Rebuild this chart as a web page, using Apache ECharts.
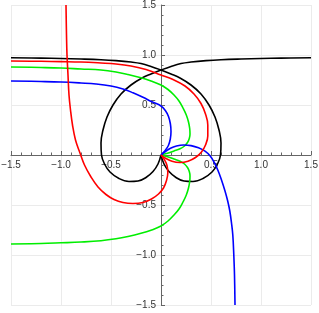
<!DOCTYPE html>
<html>
<head>
<meta charset="utf-8">
<script src="https://cdn.jsdelivr.net/npm/echarts@6/dist/echarts.min.js"></script>
<style>
html,body{margin:0;padding:0;background:#fff;}
#c{width:319px;height:313px;}
</style>
</head>
<body>
<div id="c"></div>
<script>
// Tick values and labels
var ticks = [-1.5, -1.0, -0.5, 0, 0.5, 1.0, 1.5];
var tickLabels = ['\u22121.5', '\u22121.0', '\u22120.5', '', '0.5', '1.0', '1.5'];

// Black curve: two branches meeting at the origin
var blackA = [[-1.5,0.973],[-1.2,0.969],[-1.0,0.965],[-0.8,0.960],[-0.6,0.953],[-0.45,0.944],[-0.3,0.93],[-0.2,0.915],[-0.1,0.886],[0,0.85],[0.1,0.81],[0.19,0.77],[0.30,0.70],[0.40,0.61],[0.48,0.50],[0.54,0.38],[0.58,0.25],[0.60,0.12],[0.595,0.0],[0.565,-0.09],[0.51,-0.17],[0.42,-0.235],[0.32,-0.265],[0.23,-0.26],[0.15,-0.225],[0.08,-0.165],[0.03,-0.09],[0,0]];
var blackB = [[0,0],[-0.03,-0.09],[-0.08,-0.165],[-0.15,-0.225],[-0.23,-0.26],[-0.32,-0.265],[-0.42,-0.235],[-0.51,-0.17],[-0.565,-0.09],[-0.595,0],[-0.60,0.12],[-0.58,0.25],[-0.54,0.38],[-0.48,0.50],[-0.40,0.61],[-0.30,0.70],[-0.19,0.77],[-0.1,0.81],[0,0.85],[0.1,0.886],[0.2,0.915],[0.3,0.93],[0.45,0.944],[0.6,0.953],[0.8,0.960],[1.0,0.965],[1.2,0.969],[1.5,0.973]];

// Red curve
var redA = [[-1.5,0.94],[-1.2,0.937],[-1.0,0.934],[-0.8,0.93],[-0.6,0.92],[-0.45,0.91],[-0.3,0.89],[-0.15,0.855],[0,0.80],[0.12,0.755],[0.24,0.69],[0.33,0.61],[0.40,0.515],[0.445,0.41],[0.468,0.30],[0.468,0.19],[0.445,0.10],[0.405,0.03],[0.345,-0.025],[0.27,-0.062],[0.19,-0.075],[0.11,-0.063],[0.045,-0.032],[0,0]];
var redB = [[-0.95,1.5],[-0.945,1.2],[-0.94,1.0],[-0.93,0.8],[-0.92,0.6],[-0.905,0.45],[-0.885,0.3],[-0.855,0.15],[-0.81,0.02],[-0.765,-0.1],[-0.70,-0.22],[-0.63,-0.32],[-0.55,-0.395],[-0.47,-0.445],[-0.38,-0.475],[-0.28,-0.485],[-0.18,-0.475],[-0.095,-0.44],[-0.025,-0.39],[0.025,-0.33],[0.055,-0.255],[0.068,-0.18],[0.06,-0.105],[0.033,-0.045],[0,0]];

// Green curve
var greenA = [[-1.5,0.88],[-1.2,0.875],[-1.0,0.87],[-0.8,0.86],[-0.6,0.85],[-0.45,0.83],[-0.33,0.805],[-0.2,0.772],[-0.1,0.74],[0,0.70],[0.07,0.655],[0.13,0.60],[0.18,0.54],[0.22,0.47],[0.253,0.40],[0.275,0.33],[0.287,0.265],[0.29,0.21],[0.283,0.165],[0.265,0.125],[0.235,0.09],[0.19,0.062],[0.13,0.04],[0.065,0.018],[0,0]];
var greenB = [[0,0],[0.065,-0.018],[0.13,-0.04],[0.19,-0.062],[0.235,-0.09],[0.265,-0.125],[0.283,-0.165],[0.29,-0.21],[0.287,-0.265],[0.275,-0.33],[0.253,-0.40],[0.22,-0.47],[0.18,-0.54],[0.13,-0.60],[0.07,-0.66],[0,-0.71],[-0.1,-0.752],[-0.2,-0.783],[-0.33,-0.815],[-0.45,-0.838],[-0.6,-0.857],[-0.8,-0.87],[-1.0,-0.878],[-1.2,-0.885],[-1.5,-0.89]];

// Blue curve
var blueA = [[-1.5,0.74],[-1.2,0.735],[-1.0,0.73],[-0.8,0.72],[-0.65,0.71],[-0.5,0.69],[-0.38,0.66],[-0.28,0.622],[-0.18,0.577],[-0.09,0.532],[0,0.49],[0.045,0.443],[0.075,0.385],[0.094,0.31],[0.10,0.235],[0.093,0.16],[0.074,0.095],[0.042,0.045],[0,0]];
var blueB = [[0,0],[0.045,0.035],[0.095,0.068],[0.155,0.09],[0.225,0.10],[0.30,0.094],[0.375,0.072],[0.44,0.038],[0.49,-0.008],[0.53,-0.07],[0.568,-0.15],[0.605,-0.25],[0.64,-0.36],[0.667,-0.46],[0.688,-0.56],[0.705,-0.68],[0.718,-0.80],[0.728,-1.0],[0.735,-1.2],[0.74,-1.5]];

function fmt(v) {
  for (var i = 0; i < ticks.length; i++) {
    if (Math.abs(ticks[i] - v) < 1e-9) return tickLabels[i];
  }
  return '';
}

var W = 319, H = 313;
var G = { left: 11, right: 8, top: 5, bottom: 8 };
var plotW = W - G.left - G.right, plotH = H - G.top - G.bottom;

var axisCommon = {
  type: 'value',
  min: -1.5,
  max: 1.5,
  interval: 0.5,
  axisLine: { onZero: false, lineStyle: { color: '#666', width: 1 } },
  axisTick: { show: true, inside: true, length: 4, lineStyle: { color: '#666' } },
  minorTick: { show: true, splitNumber: 5, length: 2.5, lineStyle: { color: '#666' } },
  splitLine: { show: true, lineStyle: { color: '#ebebeb', width: 1 } },
  minorSplitLine: { show: false },
  axisLabel: { formatter: fmt, fontSize: 10, color: '#333', fontFamily: 'Liberation Sans, Arial, sans-serif', showMinLabel: true, showMaxLabel: true, hideOverlap: false, margin: 5 }
};

function mk(name, data, color) {
  return {
    name: name, type: 'line', data: data, showSymbol: false, symbol: 'none',
    smooth: 0.4, lineStyle: { color: color, width: 1.6 }, clip: true,
    emphasis: { disabled: true }
  };
}

var chart = echarts.init(document.getElementById('c'), null, { renderer: 'canvas' });
chart.setOption({
  animation: false,
  backgroundColor: '#fff',
  grid: { left: G.left, right: G.right, top: G.top, bottom: G.bottom, containLabel: false, outerBoundsMode: 'none' },
  xAxis: Object.assign({}, axisCommon, { position: 'bottom', offset: -plotH / 2 }),
  yAxis: Object.assign({}, axisCommon, { position: 'left', offset: -plotW / 2 }),
  series: [
    mk('blackA', blackA, '#000000'),
    mk('blackB', blackB, '#000000'),
    mk('greenA', greenA, '#00ee00'),
    mk('greenB', greenB, '#00ee00'),
    mk('blueA', blueA, '#0000ff'),
    mk('blueB', blueB, '#0000ff'),
    mk('redA', redA, '#ff0000'),
    mk('redB', redB, '#ff0000')
  ]
});
</script>
</body>
</html>
